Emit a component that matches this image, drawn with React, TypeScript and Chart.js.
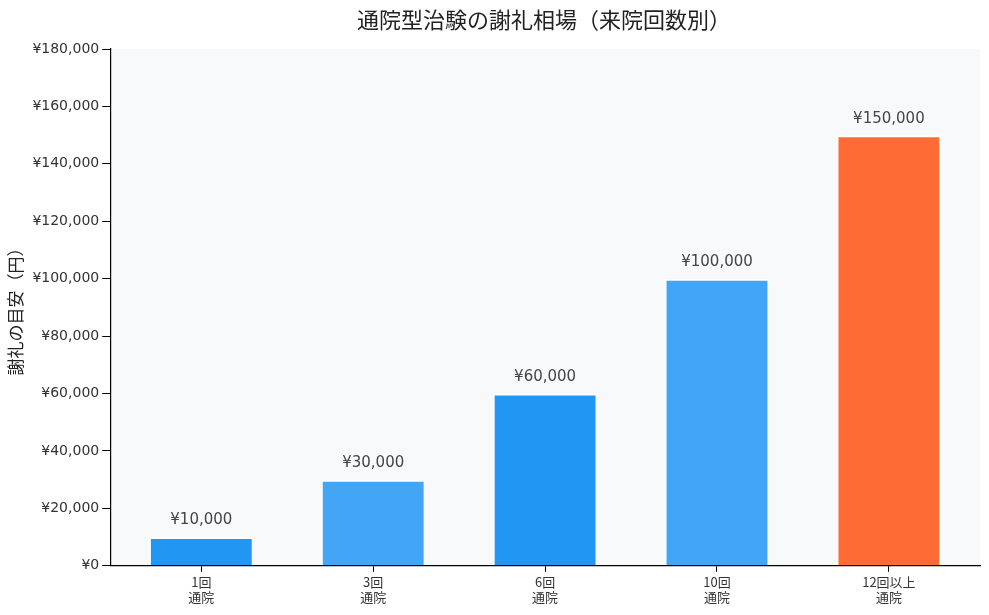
import React, { useEffect, useRef } from "react";
import { Chart, registerables } from "chart.js";

Chart.register(...registerables);

const categories: string[][] = [["1回", "通院"], ["3回", "通院"], ["6回", "通院"], ["10回", "通院"], ["12回以上", "通院"]];
const rewards: number[] = [10000, 30000, 60000, 100000, 150000];
const barColors: string[] = ["#2196F3", "#42A5F5", "#2196F3", "#42A5F5", "#FF6B35"];
const chartTitle = "通院型治験の謝礼相場（来院回数別）";
const yTitle = "謝礼の目安（円）";

const FONT = "'DejaVu Sans', 'Noto Sans CJK JP', sans-serif";
const CJK = "'Noto Sans CJK JP', sans-serif";

const yen = (v: number) => "¥" + v.toLocaleString("en-US");

const points = rewards.map((y, i) => ({ x: i, y }));

const bgPlugin = {
  id: "plotBg",
  beforeDraw(chart: any) {
    const { ctx, chartArea } = chart;
    ctx.save();
    ctx.fillStyle = "#f8f9fb";
    ctx.fillRect(chartArea.left, chartArea.top, chartArea.right - chartArea.left, chartArea.bottom - chartArea.top);
    ctx.restore();
  },
};

const titlePlugin = {
  id: "customTitle",
  afterDraw(chart: any) {
    const { ctx, chartArea } = chart;
    ctx.save();
    ctx.font = `22px ${CJK}`;
    ctx.fillStyle = "#222222";
    ctx.textAlign = "center";
    ctx.textBaseline = "middle";
    ctx.fillText(chartTitle, (chartArea.left + chartArea.right) / 2 - 1, 20);
    ctx.restore();
  },
};

const labelPlugin = {
  id: "valueLabels",
  afterDatasetsDraw(chart: any) {
    const { ctx } = chart;
    const meta = chart.getDatasetMeta(0);
    ctx.save();
    ctx.font = `15px ${FONT}`;
    ctx.fillStyle = "#444444";
    ctx.textAlign = "center";
    ctx.textBaseline = "bottom";
    meta.data.forEach((el: any, i: number) => {
      ctx.fillText(yen(rewards[i]), el.x, el.y - 9);
    });
    ctx.restore();
  },
};

export default function App() {
  const ref = useRef<HTMLCanvasElement>(null);
  useEffect(() => {
    if (!ref.current) return;
    const chart = new Chart(ref.current, {
      type: "bar",
      data: {
        datasets: [
          {
            data: points as any,
            backgroundColor: barColors,
            borderColor: "#ffffff",
            borderWidth: 2,
            barPercentage: 0.61,
            categoryPercentage: 1,
          },
        ],
      },
      options: {
        animation: false,
        responsive: true,
        maintainAspectRatio: false,
        layout: { padding: { left: 1, right: 9, top: 49, bottom: 8 } },
        plugins: {
          legend: { display: false },
          tooltip: { enabled: false },
          title: { display: false },
        },
        scales: {
          x: {
            type: "linear",
            min: -0.53,
            max: categories.length - 1 + 0.53,
            offset: false,
            afterBuildTicks: (scale: any) => {
              scale.ticks = categories.map((_, i) => ({ value: i }));
            },
            grid: { display: true, drawOnChartArea: false, offset: false, color: "#000000", tickLength: 6 },
            border: { display: true, color: "#000000", width: 1.2 },
            ticks: {
              color: "#333333",
              font: { family: CJK, size: 13 },
              padding: 2,
              autoSkip: false,
              maxRotation: 0,
              callback: (v: any) => categories[Math.round(Number(v))] ?? "",
            },
          },
          y: {
            min: 0,
            max: 180000,
            grid: { display: true, drawOnChartArea: false, color: "#000000", tickLength: 8 },
            border: { display: true, color: "#000000", width: 1.2 },
            ticks: {
              stepSize: 20000,
              color: "#333333",
              font: { family: FONT, size: 14 },
              padding: 3,
              callback: (v: any) => yen(Number(v)),
            },
            title: {
              display: true,
              text: yTitle,
              color: "#222222",
              font: { family: CJK, size: 17 },
              padding: { bottom: 4 },
            },
          },
        },
      },
      plugins: [bgPlugin, labelPlugin, titlePlugin],
    });
    return () => chart.destroy();
  }, []);
  return (
    <div style={{ position: "fixed", left: 0, top: 0, width: 989, height: 615, background: "#ffffff" }}>
      <canvas ref={ref} />
    </div>
  );
}
